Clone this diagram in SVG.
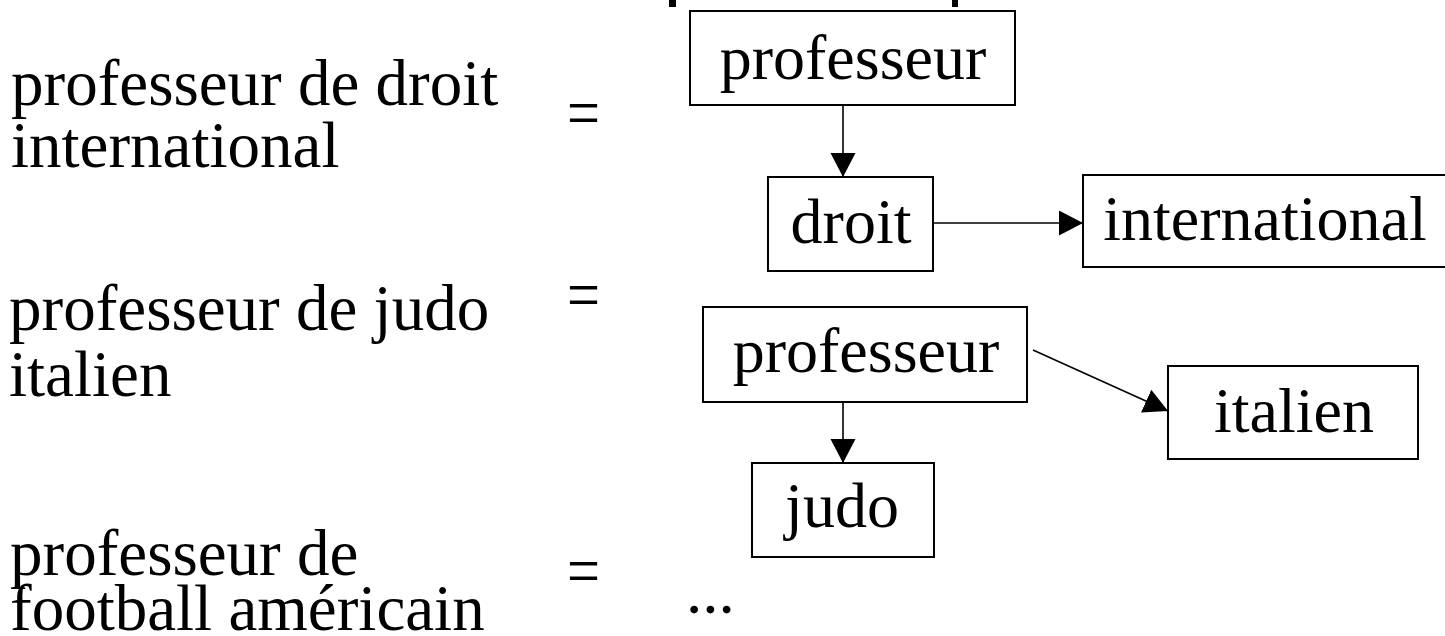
<svg xmlns="http://www.w3.org/2000/svg" width="1445" height="636" viewBox="0 0 1445 636">
<defs>
<style>
.t{font-family:"Liberation Serif","Times New Roman",serif;font-size:64px;fill:#000}
.l{font-family:"Liberation Serif","Times New Roman",serif;font-size:65px;fill:#000}
.c{text-anchor:middle}
.box{fill:#fff;stroke:#000;stroke-width:2}
.edge{stroke:#000;stroke-width:1.6;fill:none;marker-end:url(#ah)}
</style>
<marker id="ah" markerUnits="userSpaceOnUse" markerWidth="26" markerHeight="26" refX="24" refY="12.5" orient="auto">
<path d="M0,0 L24,12.5 L0,25 z" fill="#000"/>
</marker>
</defs>
<rect width="1445" height="636" fill="#fff"/>
<g id="title-fragments">
<rect x="669" y="0" width="7" height="7" fill="#000"/>
<rect x="952" y="0" width="6" height="7" fill="#000"/>
</g>
<g id="left-texts">
<text class="l" x="11" y="105">professeur de droit</text>
<text class="l" x="11" y="167">international</text>
<text class="l" transform="translate(567,137) scale(0.9,1.1)">=</text>
<text class="l" x="9" y="330">professeur de judo</text>
<text class="l" x="9" y="396">italien</text>
<text class="l" transform="translate(567,319) scale(0.9,1.1)">=</text>
<text class="l" x="10" y="575">professeur de</text>
<text class="l" x="10" y="630">football américain</text>
<text class="l" transform="translate(567,595) scale(0.9,1.1)">=</text>
<text class="l" x="686" y="613">...</text>
</g>
<g id="connectors">
<line class="edge" x1="843" y1="105" x2="843" y2="177"/>
<line class="edge" x1="933" y1="223" x2="1083" y2="223"/>
<line class="edge" x1="1033" y1="350" x2="1168" y2="411"/>
<line class="edge" x1="843" y1="402" x2="843" y2="463"/>
</g>
<g id="n-professeur1"><rect class="box" x="690" y="11" width="325" height="94"/><text class="t c" x="853" y="79">professeur</text></g>
<g id="n-droit"><rect class="box" x="768" y="177" width="165" height="94"/><text class="t c" x="851" y="243">droit</text></g>
<g id="n-international"><rect class="box" x="1083" y="175" width="364" height="92"/><text class="t c" x="1265" y="240">international</text></g>
<g id="n-professeur2"><rect class="box" x="703" y="307" width="324" height="95"/><text class="t c" x="866" y="372">professeur</text></g>
<g id="n-italien"><rect class="box" x="1168" y="366" width="250" height="93"/><text class="t c" x="1294" y="432">italien</text></g>
<g id="n-judo"><rect class="box" x="752" y="463" width="182" height="94"/><text class="t c" x="842" y="527">judo</text></g>
</svg>
